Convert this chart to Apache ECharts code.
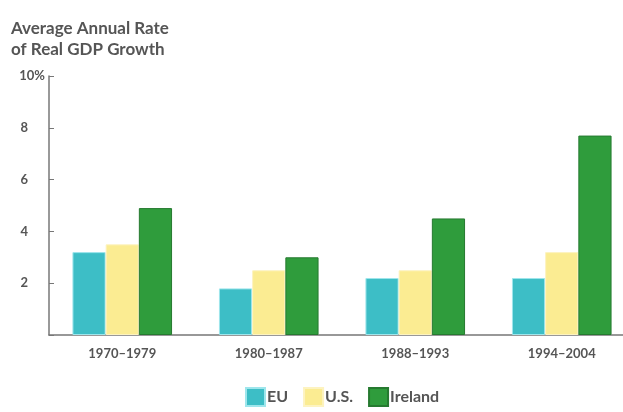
<!DOCTYPE html>
<html>
<head>
<meta charset="utf-8">
<script src="https://cdn.jsdelivr.net/npm/echarts@6/dist/echarts.min.js"></script>
<style>html,body{margin:0;padding:0;background:#fff;overflow:hidden;}#c{width:640px;height:412px;}</style>
</head>
<body>
<div id="c"></div>
<script>
var categories = ['1970–1979', '1980–1987', '1988–1993', '1994–2004'];
var euValues = [3.2, 1.8, 2.2, 2.2];
var usValues = [3.5, 2.5, 2.5, 3.2];
var irelandValues = [4.9, 3.0, 4.5, 7.7];
var yTicks = [0, 2, 4, 6, 8, 10];

var chart = echarts.init(document.getElementById('c'));
var font = 'Lato, "Open Sans", sans-serif';
chart.setOption({
  animation: false,
  title: {
    text: 'Average Annual Rate\nof Real GDP Growth',
    left: 6, top: 13,
    textStyle: {fontFamily: font, fontSize: 17, fontWeight: 'bold', color: '#555', lineHeight: 21}
  },
  legend: {
    bottom: 0, left: 240,
    itemWidth: 19, itemHeight: 18, itemGap: 15,
    icon: 'rect',
    textStyle: {fontFamily: font, fontSize: 16, fontWeight: 'bold', color: '#555', padding: [0, 0, 0, -3]},
    data: ['EU', 'U.S.', 'Ireland']
  },
  grid: {left: 49, width: 586, top: 76, bottom: 77},
  xAxis: {
    type: 'category',
    data: categories,
    axisLine: {lineStyle: {color: '#777', width: 1.5}},
    axisTick: {show: false},
    axisLabel: {fontFamily: font, fontSize: 13, fontWeight: 'bold', color: '#555', margin: 12}
  },
  yAxis: {
    type: 'value', min: 0, max: 10, interval: 2,
    axisLine: {show: true, lineStyle: {color: '#777', width: 1.5}},
    axisTick: {show: true, inside: true, length: 5, lineStyle: {color: '#777'}},
    splitLine: {show: false},
    axisLabel: {
      fontFamily: font, fontSize: 13, fontWeight: 'bold', color: '#555', margin: 4,
      formatter: function (v) { if (v === 0) return ''; return v === 10 ? '10%' : '{d|' + v + '}'; },
      rich: {d: {fontFamily: font, fontSize: 13, fontWeight: 'bold', color: '#555', padding: [0, 17, 0, 0]}}
    }
  },
  series: [
    {name: 'EU', type: 'bar', data: euValues, barGap: '0%', barCategoryGap: '32%',
     itemStyle: {color: '#3dbec6', borderColor: '#9ee6ec', borderWidth: 1}},
    {name: 'U.S.', type: 'bar', data: usValues,
     itemStyle: {color: '#fbec92', borderColor: '#fdf3c0', borderWidth: 1}},
    {name: 'Ireland', type: 'bar', data: irelandValues,
     itemStyle: {color: '#2f9c3c', borderColor: '#267a30', borderWidth: 1}}
  ]
});
</script>
</body>
</html>
